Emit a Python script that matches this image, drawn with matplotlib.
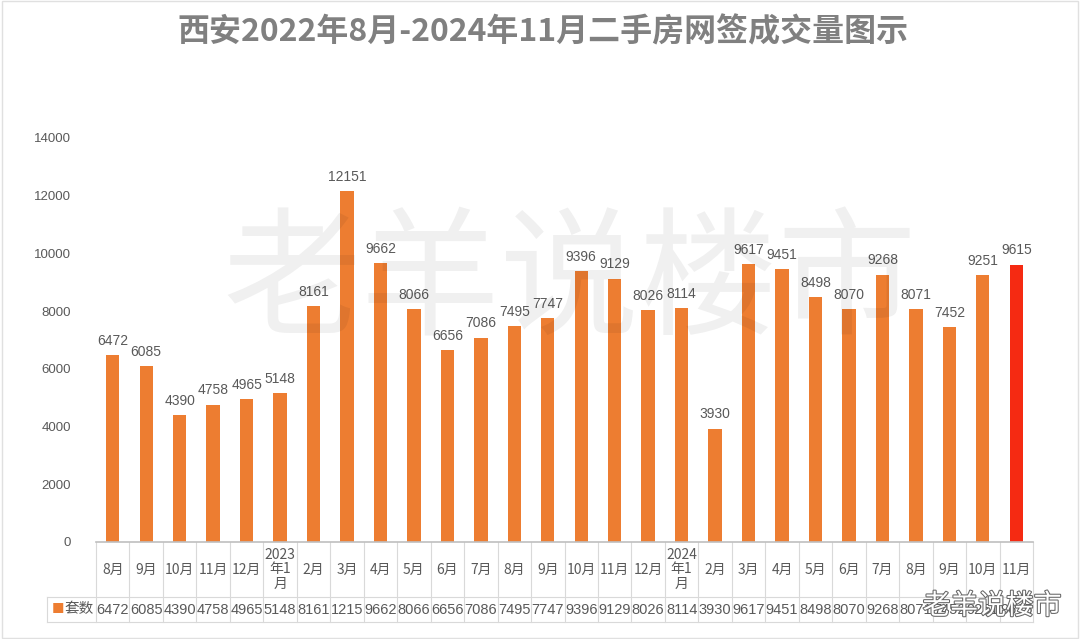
import matplotlib.pyplot as plt
import matplotlib.patheffects as pe
from matplotlib.transforms import blended_transform_factory

plt.rcParams['font.family'] = ['Noto Sans CJK SC', 'DejaVu Sans']

months = ["8月", "9月", "10月", "11月", "12月", "2023\n年1\n月", "2月", "3月", "4月", "5月",
          "6月", "7月", "8月", "9月", "10月", "11月", "12月", "2024\n年1\n月", "2月", "3月",
          "4月", "5月", "6月", "7月", "8月", "9月", "10月", "11月"]
values = [6472, 6085, 4390, 4758, 4965, 5148, 8161, 12151, 9662, 8066,
          6656, 7086, 7495, 7747, 9396, 9129, 8026, 8114, 3930, 9617,
          9451, 8498, 8070, 9268, 8071, 7452, 9251, 9615]
series_name = "套数"
title = "西安2022年8月-2024年11月二手房网签成交量图示"

orange = "#ED7D31"
red = "#F52A12"
txt = "#595959"
grid = "#D9D9D9"

fig = plt.figure(figsize=(10.8, 6.39), dpi=100)
ax = fig.add_axes([96 / 1080, 1 - 542 / 639, 937 / 1080, 404 / 639])

n = len(values)
x = list(range(n))
colors = [orange] * (n - 1) + [red]
ax.bar(x, values, width=0.4, color=colors, zorder=2)
for xi, v in zip(x, values):
    ax.text(xi, v + 250, str(v), ha="center", va="bottom", fontsize=10, color=txt,
            family=["Liberation Sans", "DejaVu Sans"])

ax.set_xlim(-0.5, n - 0.5)
ax.set_ylim(0, 14000)
ax.set_yticks(range(0, 14001, 2000))
ax.tick_params(axis="y", length=0, labelsize=9.5, labelcolor=txt, pad=18)
for lab in ax.get_yticklabels():
    lab.set_family(["Liberation Sans", "DejaVu Sans"])
ax.set_xticks([])
for s in ["top", "right", "left"]:
    ax.spines[s].set_visible(False)
ax.spines["bottom"].set_color("#BFBFBF")
ax.spines["bottom"].set_linewidth(1.2)

# data table under the axis
tr = blended_transform_factory(ax.transData, fig.transFigure)
y_top = 1 - 542 / 639
y_mid = 1 - 597 / 639
y_bot = 1 - 622 / 639
for b in [i - 0.5 for i in range(n + 1)]:
    ax.plot([b, b], [y_top, y_bot], color=grid, lw=0.8, transform=tr, clip_on=False)
left_fig = 47 / 1080
right_fig = 1033 / 1080
for yy in (y_mid, y_bot):
    fig.add_artist(plt.Line2D([left_fig, right_fig], [yy, yy], color=grid, lw=0.8))
fig.add_artist(plt.Line2D([left_fig, left_fig], [y_mid, y_bot], color=grid, lw=0.8))

for xi, m in zip(x, months):
    ax.text(xi, (y_top + y_mid) / 2, m, ha="center", va="center", fontsize=10,
            color=txt, transform=tr, linespacing=1.05)
    ax.text(xi, (y_mid + y_bot) / 2, str(values[xi])[:4], ha="center", va="center",
            fontsize=10.5, color=txt, transform=tr, family=["Liberation Sans", "DejaVu Sans"])

fig.text(52 / 1080, (y_mid + y_bot) / 2, "■", color=orange, fontsize=9, va="center", ha="left")
fig.text(64 / 1080, (y_mid + y_bot) / 2, series_name, color=txt, fontsize=10.5,
         va="center", ha="left")

fig.text(0.503, 1 - 32 / 639, title, ha="center", va="center", fontsize=23,
         color="#808080", fontweight="bold")

# watermarks
fig.text(570 / 1080, 1 - 285 / 639, "老羊说楼市", ha="center", va="center",
         fontsize=100, color="#000000", alpha=0.06, zorder=5)
fig.text(992 / 1080, 1 - 606 / 639, "老羊说楼市", ha="center", va="center", fontsize=20,
         color="white", zorder=6,
         path_effects=[pe.withStroke(linewidth=1.5, foreground="#666666")])

# faint frame around the picture
fig.add_artist(plt.Rectangle((0.002, 0.002), 0.996, 0.996, fill=False,
                             edgecolor="#E0E0E0", lw=1, transform=fig.transFigure))

fig.savefig("out.png", dpi=100, facecolor="white")
